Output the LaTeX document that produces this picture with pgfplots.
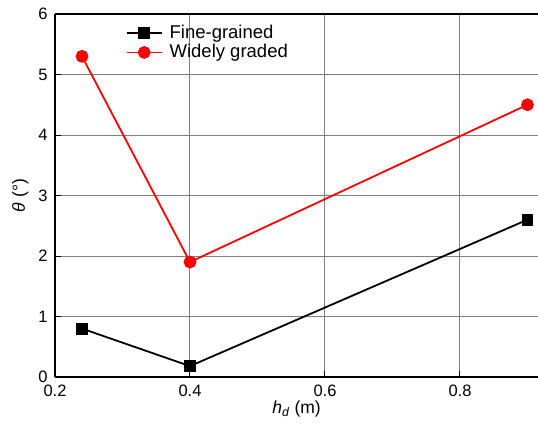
\documentclass[border=0pt]{standalone}
\usepackage{fontspec}
\setmainfont{Liberation Sans}
\usepackage{pgfplots}
\pgfplotsset{compat=1.18}
\usetikzlibrary{calc}

\begin{document}
\fontsize{16pt}{19pt}\selectfont
\begin{tikzpicture}
\begin{axis}[
  name=ax,
  scale only axis,
  width=483pt, height=363pt,
  xmin=0.2, xmax=0.9156,
  ymin=0, ymax=6,
  xtick={0.2,0.4,0.6,0.8},
  ytick={0,1,2,3,4,5,6},
  xticklabels={0.2,0.4,0.6,0.8},
  axis x line=box,
  axis y line=left,
  axis line style={-, line width=1.4pt, black},
  tick align=inside,
  major tick length=6pt,
  tick style={line width=1pt, black},
  xtick pos=bottom, ytick pos=left,
  grid=major,
  major grid style={line width=1pt, gray},
  /pgf/number format/assume math mode=true,
  ticklabel style={font=\fontsize{16.5pt}{19pt}\selectfont},
  xticklabel style={yshift=-2pt},
  yticklabel style={xshift=-2pt},
  xlabel={\textit{h}\textsubscript{\textit{d}} (m)},
  ylabel={\textit{θ} (°)},
  label style={font=\fontsize{17.5pt}{20pt}\selectfont},
  xlabel style={yshift=6pt},
  ylabel style={yshift=-1pt},
  legend style={draw=none, fill=none, at={(axis description cs:0.14,0.982)}, anchor=north west,
    font=\fontsize{18.5pt}{22pt}\selectfont, row sep=0pt, column sep=5pt,
    legend cell align=left},
  legend image code/.code={
    \draw[mark repeat=2,mark phase=2] plot coordinates {(0pt,0pt) (17.5pt,0pt) (35pt,0pt)};
  },
]
\addplot[black, line width=1.8pt, mark=square*, mark size=5pt, mark options={solid}]
  coordinates {(0.24,0.8) (0.4,0.18) (0.9,2.6)};
\addlegendentry{Fine-grained}
\addplot[red, line width=1.8pt, mark=*, mark size=5.5pt, mark options={solid}]
  coordinates {(0.24,5.3) (0.4,1.9) (0.9,4.5)};
\addlegendentry{Widely graded}
\end{axis}
\pgfresetboundingbox
\path ($(ax.south west)+(-55pt,-46pt)$) rectangle ($(ax.north east)+(0pt,14pt)$);
\end{tikzpicture}
\end{document}
